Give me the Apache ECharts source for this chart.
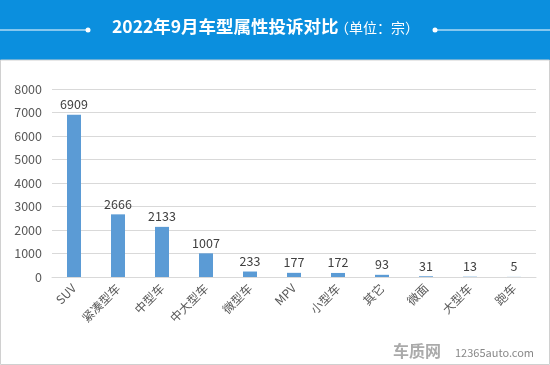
<!DOCTYPE html>
<html><head><meta charset="utf-8">
<script src="https://cdn.jsdelivr.net/npm/echarts@6/dist/echarts.min.js"></script>
<style>html,body{margin:0;padding:0;background:#fff}#c{width:550px;height:365px}</style>
</head><body><div id="c"></div>
<script>
const categories = ['SUV','紧凑型车','中型车','中大型车','微型车','MPV','小型车','其它','微面','大型车','跑车'];
const values = [6909,2666,2133,1007,233,177,172,93,31,13,5];
const yTicks = {min:0,max:8000,interval:1000};
const titleText = '2022年9月车型属性投诉对比';
const unitText = '（单位：宗）';

const chart = echarts.init(document.getElementById('c'));
const font = '"Noto Sans CJK SC", "Microsoft YaHei", sans-serif';
chart.setOption({
  animation:false,
  grid:{left:52,right:14,top:89,bottom:88,containLabel:false},
  xAxis:{type:'category',data:categories,
    axisLine:{lineStyle:{color:'#d9d9d9'}},axisTick:{show:false},
    axisLabel:{rotate:45,color:'#595959',fontSize:12,fontFamily:font,margin:9,interval:0}},
  yAxis:{type:'value',min:yTicks.min,max:yTicks.max,interval:yTicks.interval,
    axisLine:{show:false},axisTick:{show:false},
    splitLine:{lineStyle:{color:'#d9d9d9'}},
    axisLabel:{color:'#595959',fontSize:12.5,fontFamily:font,margin:10,formatter:v=>String(v)}},
  series:[{type:'bar',data:values,barWidth:14,itemStyle:{color:'#5b9bd5'},
    label:{show:true,position:'top',color:'#404040',fontSize:12.5,fontFamily:font,distance:4}}],
  graphic:[
    {type:'rect',shape:{x:0,y:0,width:550,height:60},style:{fill:'#0b8fde'},z:-1},
    {type:'rect',shape:{x:0.5,y:60,width:549,height:304.5},style:{fill:'none',stroke:'#d0d0d0',lineWidth:1},z:-1},
    {type:'line',shape:{x1:0,y1:30,x2:88,y2:30},style:{stroke:'#fff',lineWidth:1}},
    {type:'circle',shape:{cx:88,cy:30,r:2.5},style:{fill:'#fff'}},
    {type:'line',shape:{x1:435,y1:30,x2:550,y2:30},style:{stroke:'#fff',lineWidth:1}},
    {type:'circle',shape:{cx:435,cy:30,r:2.5},style:{fill:'#fff'}},
    {type:'text',left:112,top:18,style:{text:titleText,fill:'#fff',font:'bold 17.5px '+font}},
    {type:'text',left:335,top:21,style:{text:unitText,fill:'#fff',font:'14px '+font}},
    {type:'text',left:393,top:343,style:{text:'车质网',fill:'#aaa',font:'bold 16px '+font}},
    {type:'text',left:455,top:347,style:{text:'12365auto.com',fill:'#888',font:'11px '+font}}
  ]
});
</script></body></html>
